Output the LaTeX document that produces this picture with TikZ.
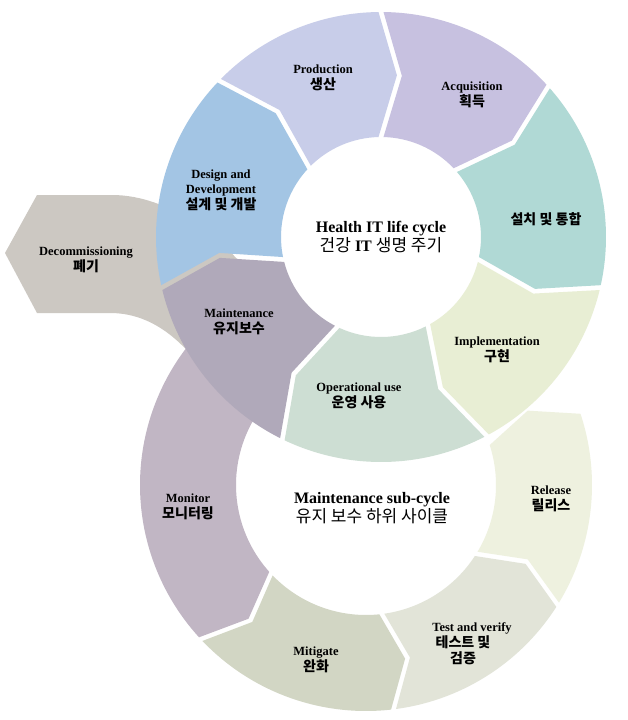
\documentclass[tikz,border=0pt]{standalone}
\usepackage{fontspec}
\setmainfont{Liberation Serif}
\newfontfamily\kr{Noto Sans CJK KR}
\usetikzlibrary{positioning}

\definecolor{decomcol}{RGB}{204,200,194}
\definecolor{designcol}{RGB}{163,197,228}
\definecolor{prodcol}{RGB}{200,205,233}
\definecolor{acqcol}{RGB}{199,193,224}
\definecolor{instcol}{RGB}{176,217,213}
\definecolor{implcol}{RGB}{232,238,212}
\definecolor{opercol}{RGB}{205,222,211}
\definecolor{maintcol}{RGB}{176,169,186}
\definecolor{moncol}{RGB}{193,182,196}
\definecolor{mitcol}{RGB}{210,214,196}
\definecolor{testcol}{RGB}{226,228,216}
\definecolor{relcol}{RGB}{238,241,223}

% one chevron piece of a ring: colour, from, to, outer r, inner r, +1 ccw / -1 cw
\newcommand\ringseg[6]{%
  \pgfmathsetmacro\rmid{(#4+#5)/2}
  \pgfmathsetmacro\aout{#2+(#6)*143/#4}
  \pgfmathsetmacro\bout{#3-(#6)*143/#4}
  \pgfmathsetmacro\ain{#2+(#6)*143/#5}
  \pgfmathsetmacro\bin{#3-(#6)*143/#5}
  \pgfmathsetmacro\btip{#3+(#6)*(\tipang-143/\rmid)}
  \pgfmathsetmacro\anot{#2+(#6)*(\tipang+143/\rmid)}
  \fill[#1] (\aout:#4) arc[start angle=\aout, end angle=\bout, radius=#4]
    -- (\btip:\rmid) -- (\bin:#5) arc[start angle=\bin, end angle=\ain, radius=#5]
    -- (\anot:\rmid) -- cycle;
}
\newcommand\ko[1]{{\kr\fontsize{14}{15.5}\selectfont #1}}
\newcommand\kotitle[1]{{\kr\mdseries\fontsize{17}{19}\selectfont #1}}

\begin{document}
\begin{tikzpicture}[
  x = 1pt, y = 1pt,
  lbl/.style = {font=\fontsize{12.5}{15.5}\selectfont\bfseries, align=center, inner sep=0pt},
  ttl/.style = {font=\fontsize{16}{19}\selectfont\bfseries, align=center, inner sep=0pt}
]
\def\tipang{6.5}

\fill[white] (0,0) rectangle (627,-720);
\useasboundingbox (0,0) rectangle (627,-720);

% decommissioning arrow (behind both rings)
\fill[decomcol] (5,-253) -- (37,-195) -- (112,-195)
  .. controls (170,-195) and (225,-240) .. (250,-275)
  -- (245,-330) -- (205,-372)
  .. controls (180,-338) and (150,-313) .. (110,-313)
  -- (37,-313) -- cycle;

% maintenance sub-cycle (counter-clockwise)
\begin{scope}[shift={(366,-485)}]
  \ringseg{moncol}{130}{223}{226}{130}{1}
  \ringseg{mitcol}{223}{277}{226}{130}{1}
  \ringseg{testcol}{277}{328}{226}{130}{1}
  \ringseg{relcol}{328}{379}{226}{130}{1}
\end{scope}

% health IT life cycle (clockwise)
\begin{scope}[shift={(381,-237)}]
  \ringseg{designcol}{193}{136}{225}{100}{-1}
  \ringseg{prodcol}{136}{90}{225}{100}{-1}
  \ringseg{acqcol}{90}{42}{225}{100}{-1}
  \ringseg{instcol}{42}{-13}{225}{100}{-1}
  \ringseg{implcol}{-13}{-62}{225}{100}{-1}
  \ringseg{opercol}{-62}{-116}{225}{100}{-1}
  \ringseg{maintcol}{-116}{-167}{225}{100}{-1}
\end{scope}

% labels
\node[ttl] (lifecycle) at (381,-237) {Health IT life cycle\\\kotitle{건강} IT \kotitle{생명 주기}};
\node[ttl] (subcycle) at (372,-508) {Maintenance sub-cycle\\\kotitle{유지 보수 하위 사이클}};

\node[lbl] (design) at (221,-190) {Design and\\Development\\\ko{설계 및 개발}};
\node[lbl] (prod) at (323,-78) {Production\\\ko{생산}};
\node[lbl] (acq) at (472,-95) {Acquisition\\\ko{획득}};
\node[lbl] (inst) at (546,-219) {\ko{설치 및 통합}};
\node[lbl] (impl) at (497,-350) {Implementation\\\ko{구현}};
\node[lbl] (oper) at (359,-396) {Operational use\\\ko{운영 사용}};
\node[lbl] (maint) at (239,-322) {Maintenance\\\ko{유지보수}};
\node[lbl] (decom) at (86,-260) {Decommissioning\\\ko{폐기}};
\node[lbl] (monitor) at (188,-507) {Monitor\\\ko{모니터링}};
\node[lbl] (mitig) at (316,-660) {Mitigate\\\ko{완화}};
\node[lbl] (release) at (551,-499) {Release\\\ko{릴리스}};
\node[lbl] (test) at (472,-628) {Test and verify};
\node[lbl, below=2pt of test, xshift=-9pt] (testkr) {\ko{테스트 및}\\\ko{검증}};
\end{tikzpicture}
\end{document}
